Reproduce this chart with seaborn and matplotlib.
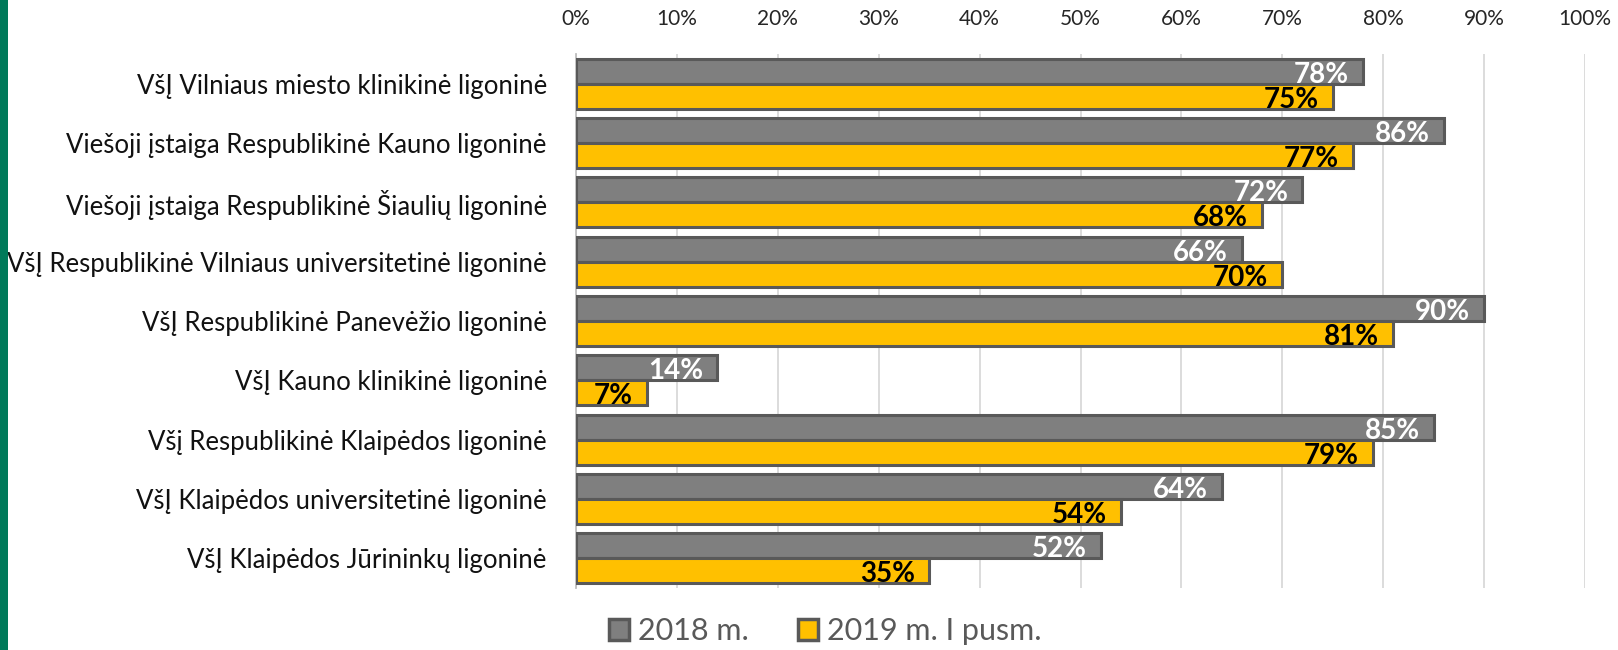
import matplotlib
matplotlib.use("Agg")
import matplotlib.pyplot as plt
import matplotlib.patches as mpatches
import seaborn as sns
import pandas as pd

categories = [
    "VšĮ Vilniaus miesto klinikinė ligoninė",
    "Viešoji įstaiga Respublikinė Kauno ligoninė",
    "Viešoji įstaiga Respublikinė Šiaulių ligoninė",
    "VšĮ Respublikinė Vilniaus universitetinė ligoninė",
    "VšĮ Respublikinė Panevėžio ligoninė",
    "VšĮ Kauno klinikinė ligoninė",
    "Všį Respublikinė Klaipėdos ligoninė",
    "VšĮ Klaipėdos universitetinė ligoninė",
    "VšĮ Klaipėdos Jūrininkų ligoninė",
]
series_names = ["2018 m.", "2019 m. I pusm."]
values_2018 = [78, 86, 72, 66, 90, 14, 85, 64, 52]
values_2019 = [75, 77, 68, 70, 81, 7, 79, 54, 35]
tick_values = [0, 10, 20, 30, 40, 50, 60, 70, 80, 90, 100]
tick_labels = [f"{t}%" for t in tick_values]

colors = ["#7F7F7F", "#FFC000"]
edge = "#595959"
label_colors = ["white", "black"]

df = pd.DataFrame({
    "category": categories * 2,
    "value": values_2018 + values_2019,
    "series": [series_names[0]] * len(categories) + [series_names[1]] * len(categories),
})

sns.set_style("white")
plt.rcParams["font.family"] = ["Lato", "DejaVu Sans"]

fig = plt.figure(figsize=(16.18, 6.5), dpi=100)
ax = fig.add_axes([576 / 1618, 1 - 588 / 650, (1585 - 576) / 1618, (588 - 54) / 650])

sns.barplot(data=df, y="category", x="value", hue="series", orient="h",
            palette=colors, saturation=1, width=0.84, edgecolor=edge, linewidth=2.2,
            ax=ax, legend=False, zorder=3)

ax.set_xlim(0, 100)
ax.set_xticks(tick_values)
ax.set_xticklabels(tick_labels, fontsize=15, color="#262626")
ax.xaxis.tick_top()
ax.tick_params(axis="x", length=0, pad=18)
ax.tick_params(axis="y", length=0, pad=21, labelsize=18.5, labelcolor="#111111")
ax.set_xlabel("")
ax.set_ylabel("")
ax.grid(axis="x", color="#D9D9D9", linewidth=1.3, zorder=0)
ax.set_axisbelow(True)
for s in ["top", "right", "bottom"]:
    ax.spines[s].set_visible(False)
ax.spines["left"].set_color("#BFBFBF")
ax.spines["left"].set_linewidth(1.3)

for ci, container in enumerate(ax.containers):
    for bar, val in zip(container, [values_2018, values_2019][ci]):
        y = bar.get_y() + bar.get_height() / 2
        ax.annotate(f"{val}%", xy=(bar.get_width(), y), xytext=(-10, -2.5),
                    textcoords="offset points", ha="right", va="center",
                    fontsize=20, fontweight="bold", color=label_colors[ci], zorder=5)

handles = [mpatches.Patch(facecolor=c, edgecolor=edge, linewidth=2.5, label=n)
           for c, n in zip(colors, series_names)]
fig.legend(handles=handles, loc="lower center", bbox_to_anchor=(0.51, -0.035), ncol=2,
           frameon=False, fontsize=22, handlelength=0.65, handleheight=0.65,
           handletextpad=0.3, columnspacing=1.6, labelcolor="#595959")

fig.patches.append(mpatches.Rectangle((0, 0), 8 / 1618, 1, transform=fig.transFigure,
                                      facecolor="#007A5A", edgecolor="none", zorder=10))

fig.savefig("out.png", dpi=100)
